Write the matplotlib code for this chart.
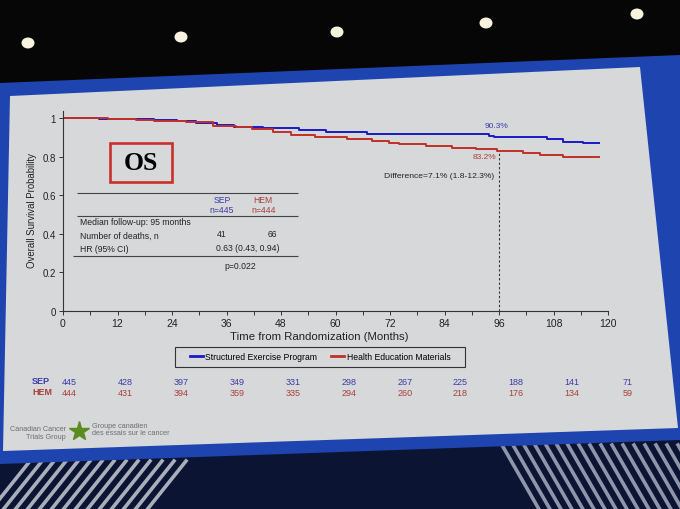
import numpy as np
import matplotlib.pyplot as plt
from matplotlib.patches import Polygon, Ellipse, Rectangle
from matplotlib.lines import Line2D
from matplotlib import transforms

plt.rcParams['font.family'] = ['Liberation Sans', 'DejaVu Sans']

# Kaplan-Meier steps (months, survival probability)
sep_t = [0, 8, 14, 20, 25, 29.3, 34, 37.7, 44, 52, 58, 67, 93.8, 95, 106.6, 110, 114.6, 118]
sep_s = [1.0, 0.998, 0.995, 0.99, 0.985, 0.975, 0.965, 0.955, 0.948, 0.937, 0.93, 0.92,
         0.908, 0.903, 0.893, 0.879, 0.869, 0.869]
hem_t = [0, 10, 16, 20, 27, 33, 38, 41.6, 46.2, 50.2, 55.5, 62.5, 68, 71.8, 74, 79.9,
         85.7, 91, 95.5, 101.2, 105, 110, 118]
hem_s = [1.0, 0.997, 0.992, 0.985, 0.978, 0.962, 0.952, 0.943, 0.929, 0.915, 0.904, 0.893,
         0.882, 0.873, 0.866, 0.858, 0.848, 0.842, 0.832, 0.82, 0.81, 0.80, 0.80]

# numbers at risk
risk_months = [0, 12, 24, 36, 48, 60, 72, 84, 96, 108, 120]
risk_sep = [445, 428, 397, 349, 331, 298, 267, 225, 188, 141, 71]
risk_hem = [444, 431, 394, 359, 335, 294, 260, 218, 176, 134, 59]

# summary table
n_sep, n_hem = 445, 444
deaths_sep, deaths_hem = 41, 66
median_fu = 95
hr, hr_lo, hr_hi = 0.63, 0.43, 0.94
p_val = '0.022'
landmark = 96
os_sep_96, os_hem_96 = 90.3, 83.2
diff, diff_lo, diff_hi = 7.1, 1.8, 12.3

blue = '#1a1ac8'
red = '#c0302a'
blue_txt = '#3b3ca6'
red_txt = '#a8403c'
ink = '#222222'
slide = '#d7d8da'

W, H = 680, 510
def fx(x):
    return x / W
def fy(y):
    return 1 - y / H

fig = plt.figure(figsize=(6.8, 5.1), dpi=100)
fig.patch.set_facecolor('#060606')

# screen frame and slide (photo background)
tf = fig.transFigure
fig.patches.append(Polygon([(0, 0), (1, 0), (1, fy(430)), (0, fy(455))], closed=True,
                           facecolor='#0c1433', edgecolor='none', transform=tf, zorder=-20))
fig.patches.append(Polygon([(fx(0), fy(84)), (fx(680), fy(56)), (fx(680), fy(441)), (fx(0), fy(465))],
                           closed=True, facecolor='#1e44b0', edgecolor='none', transform=tf, zorder=-15))
fig.patches.append(Polygon([(fx(10), fy(97)), (fx(640), fy(68)), (fx(678), fy(429)), (fx(3), fy(452))],
                           closed=True, facecolor=slide, edgecolor='none', transform=tf, zorder=-10))
for lx, ly in [(28, 44), (181, 38), (337, 33), (486, 24), (637, 15)]:
    fig.patches.append(Ellipse((fx(lx), fy(ly)), 13 / W, 11 / H, facecolor='#f8f3de',
                               edgecolor='none', transform=tf, zorder=-17))
# stage stripes
for x0 in np.arange(30, 190, 12):
    fig.add_artist(Line2D([fx(x0), fx(x0 - 40)], [fy(462), fy(512)], color='#a9aebb', lw=2.6,
                          transform=tf, zorder=-16))
for x0 in np.arange(502, 700, 11):
    fig.add_artist(Line2D([fx(x0), fx(x0 + 38)], [fy(446), fy(512)], color='#8f96aa', lw=2.6,
                          transform=tf, zorder=-16))

# KM plot
ax = fig.add_axes([fx(63), fy(312), 545 / W, 200.5 / H])
ax.set_facecolor('none')
ax.step(sep_t, sep_s, where='post', color=blue, lw=1.4, label='Structured Exercise Program')
ax.step(hem_t, hem_s, where='post', color=red, lw=1.4, label='Health Education Materials')
ax.vlines(landmark, 0, os_hem_96 / 100, colors='#333333', linestyles=(0, (2, 2)), lw=0.8)

ax.set_xlim(0, 120)
ax.set_ylim(0, 1.04)
ax.set_xticks(risk_months)
ax.set_xticks(np.arange(6, 120, 12), minor=True)
ax.set_yticks([0, 0.2, 0.4, 0.6, 0.8, 1.0])
ax.set_yticklabels(['0', '0.2', '0.4', '0.6', '0.8', '1'])
for s in ['top', 'right']:
    ax.spines[s].set_visible(False)
for s in ['left', 'bottom']:
    ax.spines[s].set_color('#333333')
    ax.spines[s].set_linewidth(0.8)
ax.tick_params(axis='both', which='both', direction='out', length=3, width=0.7,
               colors='#333333', labelcolor=ink, pad=2)
ax.tick_params(axis='x', labelsize=7.5)
ax.tick_params(axis='y', labelsize=7)
ax.set_xlabel('Time from Randomization (Months)', fontsize=8.2, color=ink)
ax.xaxis.set_label_coords(0.47, -0.10)
ax.set_ylabel('Overall Survival Probability', fontsize=6.9, color=ink)
ax.yaxis.set_label_coords(-0.047, 0.505)

# landmark annotations
ax.text(95.5, 0.962, f'{os_sep_96}%', color=blue_txt, fontsize=6, ha='center', va='center')
ax.text(95.3, 0.803, f'{os_hem_96}%', color=red_txt, fontsize=6, ha='right', va='center')
ax.text(95.0, 0.705, f'Difference={diff}% ({diff_lo}-{diff_hi}%)', color=ink, fontsize=6.1,
        ha='right', va='center')

# OS box
ax.add_patch(Rectangle((10.35, 0.669), 13.65, 0.202, facecolor='none', edgecolor='#c8302c', lw=1.9))
ax.text(17.2, 0.768, 'OS', fontsize=18.5, fontweight='bold', family='Liberation Serif', color='black',
        ha='center', va='center')

# summary table
fs = 6.2
ax.hlines([0.610, 0.494], 3.1, 51.8, colors='#444444', lw=0.8)
ax.hlines(0.286, 2.2, 51.8, colors='#444444', lw=0.8)
ax.text(35.0, 0.577, 'SEP', color=blue_txt, fontsize=fs, ha='center', va='center')
ax.text(35.0, 0.525, f'n={n_sep}', color=blue_txt, fontsize=fs, ha='center', va='center')
ax.text(44.1, 0.579, 'HEM', color=red_txt, fontsize=fs, ha='center', va='center')
ax.text(44.1, 0.527, f'n={n_hem}', color=red_txt, fontsize=fs, ha='center', va='center')
ax.text(3.8, 0.462, f'Median follow-up: {median_fu} months', color=ink, fontsize=fs, va='center')
ax.text(3.8, 0.395, 'Number of deaths, n', color=ink, fontsize=fs, va='center')
ax.text(35.0, 0.400, str(deaths_sep), color=ink, fontsize=fs, ha='center', va='center')
ax.text(46.0, 0.400, str(deaths_hem), color=ink, fontsize=fs, ha='center', va='center')
ax.text(3.8, 0.322, 'HR (95% CI)', color=ink, fontsize=fs, va='center')
ax.text(40.6, 0.327, f'{hr} ({hr_lo}, {hr_hi})', color=ink, fontsize=fs, ha='center', va='center')
ax.text(39.0, 0.236, f'p={p_val}', color=ink, fontsize=fs, ha='center', va='center')

# legend with a hand-drawn frame (wide and flat like the slide)
fig.patches.append(Rectangle((fx(175), fy(367.5)), 290 / W, 20 / H, facecolor='none',
                             edgecolor='#333333', lw=0.8, transform=tf, zorder=2))
leg = fig.legend(loc='center', bbox_to_anchor=(fx(320), fy(357.5)), ncol=2, fontsize=6.2,
                 frameon=False, handlelength=1.5, handletextpad=0.25, columnspacing=1.7,
                 borderpad=0.2)
for line in leg.get_lines():
    line.set_linewidth(2)

# numbers at risk
bt = transforms.blended_transform_factory(ax.transData, fig.transFigure)
ax.text(-4.8, fy(381.5), 'SEP', color=blue_txt, fontsize=6.5, fontweight='bold', ha='center',
        va='center', transform=bt, clip_on=False)
ax.text(-4.6, fy(392.5), 'HEM', color=red_txt, fontsize=6.5, fontweight='bold', ha='center',
        va='center', transform=bt, clip_on=False)
for m, a, b in zip(risk_months, risk_sep, risk_hem):
    xm = 1.5 + m * 1.024
    ax.text(xm, fy(382.5), str(a), color=blue_txt, fontsize=6.5, ha='center', va='center',
            transform=bt, clip_on=False)
    ax.text(xm, fy(394), str(b), color=red_txt, fontsize=6.5, ha='center', va='center',
            transform=bt, clip_on=False)

# CCTG logo
logo = '#6d6f6d'
fig.text(fx(66), fy(430), 'Canadian Cancer', color=logo, fontsize=5.2, ha='right', va='center')
fig.text(fx(66), fy(437.5), 'Trials Group', color=logo, fontsize=5.2, ha='right', va='center')
fig.add_artist(Line2D([fx(79)], [fy(432)], marker='*', markersize=15, color='#5b8c1f',
                      transform=tf))
fig.text(fx(92), fy(426.5), 'Groupe canadien', color=logo, fontsize=5.2, ha='left', va='center')
fig.text(fx(92), fy(434), 'des essais sur le cancer', color=logo, fontsize=5.2, ha='left', va='center')

fig.savefig('out.png', dpi=100, facecolor=fig.get_facecolor())
